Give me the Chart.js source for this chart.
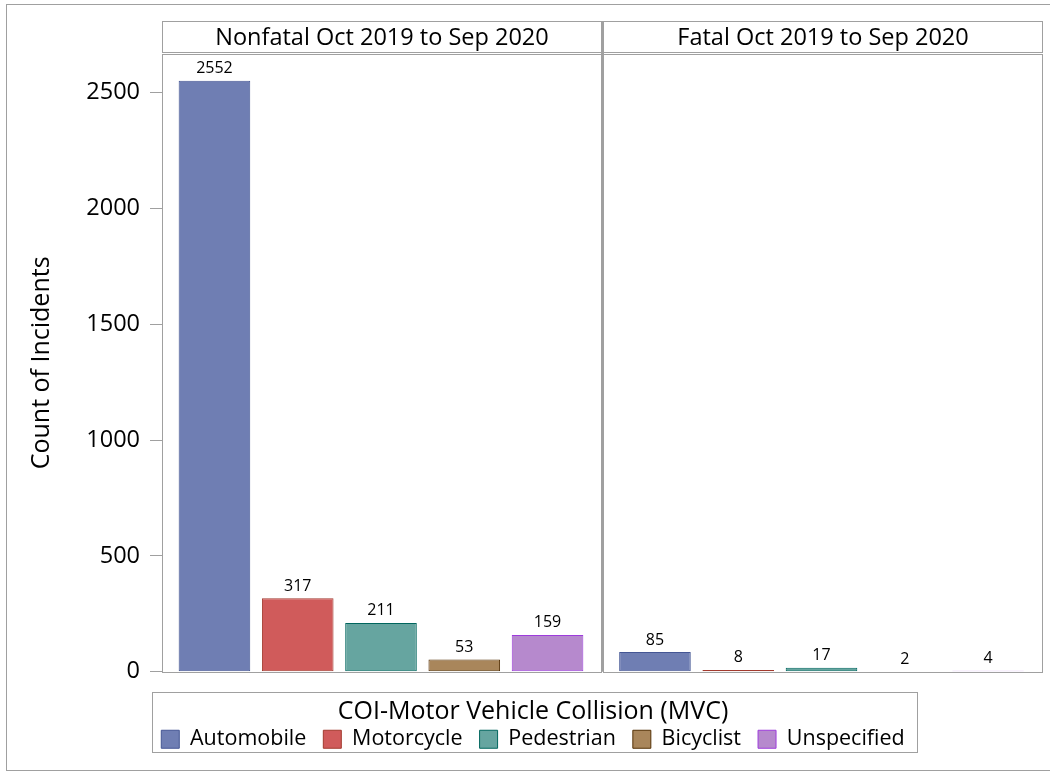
<!DOCTYPE html>
<html>
<head>
<meta charset="utf-8">
<title>MVC incidents</title>
<script src="https://cdn.jsdelivr.net/npm/chart.js@4"></script>
<style>
  html, body { margin: 0; padding: 0; background: #fff; }
  #wrap { width: 1050px; height: 771px; }
</style>
</head>
<body>
<div id="wrap"><canvas id="myChart" width="1050" height="771"></canvas></div>
<script>
/** Data **/
const categories = ["Automobile", "Motorcycle", "Pedestrian", "Bicyclist", "Unspecified"];
const panels = ["Nonfatal Oct 2019 to Sep 2020", "Fatal Oct 2019 to Sep 2020"];
const nonfatal = [2552, 317, 211, 53, 159];
const fatal = [85, 8, 17, 2, 4];
const yTicks = [0, 500, 1000, 1500, 2000, 2500];
const legendTitle = "COI-Motor Vehicle Collision (MVC)";
const yTitle = "Count of Incidents";

/** Styles **/
const fills = ["#6F7EB3", "#D05B5B", "#66A5A0", "#A9865B", "#B689CD"];
const borders = ["#445694", "#A23A2E", "#01665E", "#543005", "#9D3CDB"];
const frameColor = "#a0a0a0";
const fontFamily = "'Open Sans', 'Noto Sans', sans-serif";

//  each panel takes this many category slots on the shared x scale
const panelStride = 5.29;
const xMin = -0.63;
const xMax = xMin + 2 * panelStride;

//  one dataset per vehicle type, one bar in each panel
const panelValues = [nonfatal, fatal];
const datasets = categories.map((cat, i) => ({
  label: cat,
  data: panelValues.map((vals, p) => ({ x: p * panelStride + i, y: vals[i] })),
  backgroundColor: fills[i],
  borderColor: borders[i],
  borderWidth: 1,
  borderSkipped: false,
  grouped: false,
  barPercentage: 0.86,
  categoryPercentage: 1,
}));

/** Plugin drawing frames, strip headers, value labels and legend box **/
const panelPlugin = {
  id: "panelPlugin",
  beforeDraw(chart) {
    const ctx = chart.ctx;
    ctx.save();
    ctx.fillStyle = "#fff";
    ctx.fillRect(0, 0, chart.width, chart.height);
    //  outer border
    ctx.strokeStyle = frameColor;
    ctx.lineWidth = 1;
    ctx.strokeRect(6.5, 4.5, 1060, 766);
    ctx.restore();
  },
  afterDatasetsDraw(chart) {
    const ctx = chart.ctx;
    const area = chart.chartArea;
    const xs = chart.scales.x;
    const split = xs.getPixelForValue(xMin + panelStride);
    ctx.save();
    //  value labels above bars
    ctx.fillStyle = "#000";
    ctx.font = "16px " + fontFamily;
    ctx.textAlign = "center";
    ctx.textBaseline = "middle";
    chart.data.datasets.forEach((ds, i) => {
      chart.getDatasetMeta(i).data.forEach((bar, j) => {
        ctx.fillText(String(ds.data[j].y), bar.x, bar.y - 12);
      });
    });
    //  panel frames and headers
    ctx.strokeStyle = frameColor;
    ctx.lineWidth = 1;
    const boxes = [
      [Math.round(area.left) + 0.5, Math.round(split) - 1.5],
      [Math.round(split) + 0.5, Math.round(area.right) - 0.5],
    ];
    boxes.forEach((b, p) => {
      ctx.strokeRect(b[0], Math.round(area.top) + 0.5, b[1] - b[0], Math.round(area.bottom - area.top));
      ctx.strokeRect(b[0], 21.5, b[1] - b[0], 31);
      ctx.fillStyle = "#000";
      ctx.font = "23.5px " + fontFamily;
      ctx.fillText(panels[p], (b[0] + b[1]) / 2, 38);
    });
    ctx.fillStyle = frameColor;
    ctx.fillRect(Math.round(split) - 2, 21, 3, area.bottom - 21);
    ctx.restore();
  },
  afterDraw(chart) {
    const lg = chart.legend;
    if (!lg || !lg.legendHitBoxes.length) return;
    const hb = lg.legendHitBoxes;
    const first = hb[0];
    const last = hb[hb.length - 1];
    const ctx = chart.ctx;
    const itemMid = first.top + first.height / 2;
    ctx.save();
    ctx.strokeStyle = frameColor;
    ctx.lineWidth = 1;
    const l = Math.round(first.left - 9) + 0.5;
    const r = Math.round(last.left + last.width + 12) + 0.5;
    const t = Math.round(itemMid - 47.5) + 0.5;
    const bt = Math.round(itemMid + 12.5) + 0.5;
    ctx.strokeRect(l, t, r - l, bt - t);
    ctx.restore();
  },
};

const ctx = document.getElementById("myChart");

let myChart = new Chart(ctx, {
  type: "bar",
  data: { datasets: datasets },
  options: {
    responsive: false,
    animation: false,
    layout: { padding: { top: 54, left: 23, right: 7, bottom: 11 } },
    scales: {
      x: {
        type: "linear",
        offset: false,
        min: xMin,
        max: xMax,
        ticks: { display: false },
        grid: { display: false, offset: false },
        border: { display: false },
        afterFit(scale) {
          scale.height = 10;
        },
      },
      y: {
        min: 0,
        max: 2667,
        afterBuildTicks(scale) {
          scale.ticks = yTicks.map((v) => ({ value: v }));
        },
        ticks: {
          color: "#000",
          padding: 10,
          font: { family: fontFamily, size: 23.5 },
          callback: (v) => String(v),
        },
        grid: {
          drawOnChartArea: false,
          tickLength: 12,
          color: frameColor,
        },
        border: { display: false },
        title: {
          display: true,
          text: yTitle,
          color: "#000",
          font: { family: fontFamily, size: 25, lineHeight: 1.2 },
          padding: { top: 4, bottom: 0 },
        },
        afterFit(scale) {
          scale.width = 139;
        },
      },
    },
    plugins: {
      tooltip: { enabled: false },
      legend: {
        position: "bottom",
        title: {
          display: true,
          text: legendTitle,
          color: "#000",
          font: { family: fontFamily, size: 25, lineHeight: 1.2 },
          padding: { top: 17.5, bottom: -17.75 },
        },
        labels: {
          color: "#000",
          boxWidth: 18,
          boxHeight: 18,
          padding: 17,
          font: { family: fontFamily, size: 21.5 },
        },
      },
    },
  },
  plugins: [panelPlugin],
});
</script>
</body>
</html>
